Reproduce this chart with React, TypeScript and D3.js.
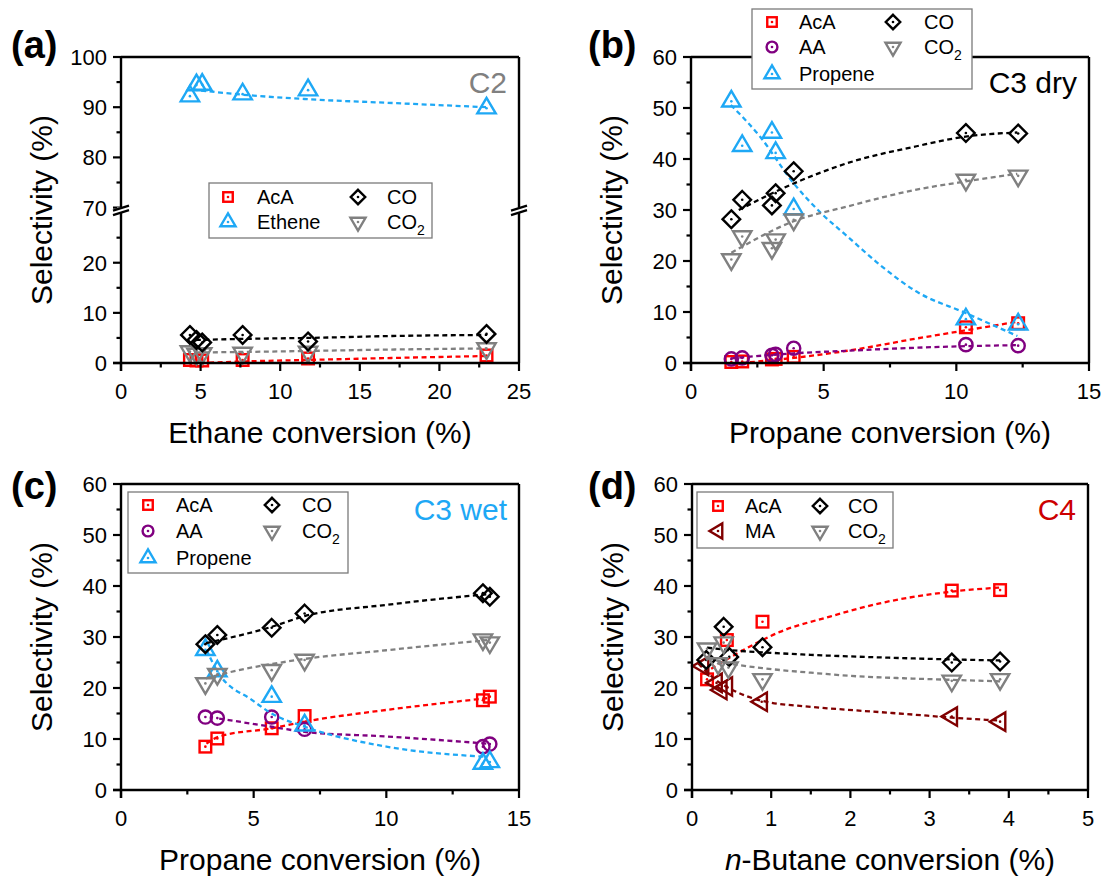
import React from 'react';
import * as d3 from 'd3';

type Pt = [number, number];
type Shape = 'square' | 'circle' | 'up' | 'down' | 'diamond' | 'left';

const FONT = "'Liberation Sans', Arial, Helvetica, sans-serif";
const RED = '#ff0000';
const PURPLE = '#800080';
const BLUE = '#1ea8f5';
const BLACK = '#000000';
const GRAY = '#808080';
const DKRED = '#800000';

// ---------- Panel (a) C2 ----------
const C2_conv = [4.33, 4.74, 5.1, 7.64, 11.75, 22.96];
const C2_AcA = [0.6, 0.5, 0.5, 0.6, 0.9, 1.5];
const C2_Ethene = [92.2, 94.4, 94.5, 92.6, 93.4, 89.8];
const C2_CO = [5.6, 4.6, 4.1, 5.6, 4.3, 5.8];
const C2_CO2 = [2.3, 1.8, 1.9, 2.0, 2.2, 2.9];
const C2_AcA_fit: Pt[] = [[5.0, 0.0], [7.6, 0.3], [11.6, 0.6], [17.0, 1.0], [23.0, 1.4]];
const C2_Ethene_fit: Pt[] = [[4.5, 93.5], [7.6, 92.5], [11.7, 91.6], [17.3, 90.8], [23.0, 90.0]];
const C2_CO_fit: Pt[] = [[4.7, 4.6], [7.6, 4.8], [11.7, 5.0], [17.3, 5.4], [23.0, 5.6]];
const C2_CO2_fit: Pt[] = [[4.7, 2.1], [7.6, 2.2], [11.7, 2.4], [17.3, 2.7], [23.0, 2.9]];
const C2_xTicks = [0, 5, 10, 15, 20, 25];
const C2_yTicksLow = [0, 10, 20];
const C2_yTicksHigh = [70, 80, 90, 100];

// ---------- Panel (b) C3 dry ----------
const C3d_conv = [1.52, 1.93, 3.05, 3.19, 3.87, 10.36, 12.33];
const C3d_AcA = [0.2, 0.3, 0.7, 0.8, 1.2, 7.0, 7.8];
const C3d_AA = [0.8, 1.0, 1.5, 1.7, 2.9, 3.6, 3.4];
const C3d_Propene = [51.3, 42.6, 45.2, 41.2, 30.2, 8.6, 7.6];
const C3d_CO = [28.2, 32.0, 30.9, 33.3, 37.6, 45.1, 45.0];
const C3d_CO2 = [20.3, 24.8, 22.5, 24.2, 28.1, 35.9, 36.7];
const C3d_AcA_fit: Pt[] = [[1.9, 0.0], [3.87, 1.0], [5.9, 2.4], [8.5, 4.8], [10.35, 6.4], [12.3, 8.1]];
const C3d_AA_fit: Pt[] = [[1.5, 0.9], [1.93, 1.1], [3.87, 1.9], [5.9, 2.4], [8.5, 3.0], [10.35, 3.3], [12.3, 3.5]];
const C3d_Propene_fit: Pt[] = [[1.5, 50.6], [2.6, 44.4], [3.86, 35.3], [4.9, 29.4], [5.9, 24.8], [7.2, 18.9], [8.5, 14.0], [10.35, 9.8], [12.3, 5.3]];
const C3d_CO_fit: Pt[] = [[1.8, 30.0], [3.87, 35.2], [5.9, 39.2], [8.5, 42.5], [10.35, 44.4], [12.3, 45.2]];
const C3d_CO2_fit: Pt[] = [[1.52, 21.6], [3.87, 27.8], [5.9, 30.7], [8.5, 34.0], [10.35, 35.6], [12.3, 37.1]];
const C3_xTicks = [0, 5, 10, 15];
const Y60_ticks = [0, 10, 20, 30, 40, 50, 60];

// ---------- Panel (c) C3 wet ----------
const C3w_conv = [3.18, 3.63, 5.68, 6.92, 13.64, 13.9];
const C3w_AcA = [8.5, 10.1, 12.1, 14.5, 17.6, 18.3];
const C3w_AA = [14.3, 14.1, 14.3, 11.9, 8.5, 9.0];
const C3w_Propene = [27.5, 23.3, 18.3, 12.7, 5.2, 5.5];
const C3w_CO = [28.6, 30.4, 31.8, 34.6, 38.6, 37.9];
const C3w_CO2 = [20.9, 22.7, 23.5, 25.5, 29.5, 28.9];
const C3w_AcA_fit: Pt[] = [[3.22, 9.1], [3.7, 10.5], [5.68, 12.1], [6.92, 13.4], [10.0, 15.7], [13.8, 18.0]];
const C3w_AA_fit: Pt[] = [[3.7, 14.0], [5.68, 12.4], [6.92, 11.4], [10.0, 10.5], [13.8, 9.1]];
const C3w_Propene_fit: Pt[] = [[3.22, 27.5], [3.63, 23.3], [4.95, 17.6], [5.68, 15.0], [6.92, 12.4], [10.0, 8.5], [13.8, 6.5]];
const C3w_CO_fit: Pt[] = [[3.2, 28.8], [5.68, 32.0], [6.92, 34.1], [10.0, 36.3], [13.8, 38.4]];
const C3w_CO2_fit: Pt[] = [[3.2, 21.9], [3.63, 22.5], [6.92, 25.7], [10.0, 27.4], [13.8, 29.4]];

// ---------- Panel (d) C4 ----------
const C4_AcA_x = [0.19, 0.44, 0.89, 3.28, 3.89];
const C4_AcA = [21.7, 29.4, 33.0, 39.1, 39.2];
const C4_MA_x = [0.14, 0.31, 0.37, 0.44, 0.88, 3.28, 3.89];
const C4_MA = [24.3, 21.0, 19.6, 20.3, 17.3, 14.4, 13.4];
const C4_CO_x = [0.18, 0.40, 0.47, 0.89, 3.28, 3.89];
const C4_CO = [25.5, 32.0, 26.1, 28.0, 25.0, 25.2];
const C4_CO2_x = [0.19, 0.33, 0.40, 0.46, 0.89, 3.28, 3.89];
const C4_CO2 = [27.7, 24.8, 28.9, 24.0, 21.7, 21.4, 21.7];
const C4_AcA_fit: Pt[] = [[0.15, 22.9], [0.69, 27.8], [1.11, 31.0], [1.74, 34.0], [2.37, 36.6], [3.28, 38.9], [3.89, 39.7]];
const C4_MA_fit: Pt[] = [[0.08, 24.8], [0.3, 21.6], [0.5, 19.7], [0.88, 17.5], [1.5, 16.3], [2.08, 15.6], [2.7, 14.9], [3.28, 14.2], [3.89, 13.6]];
const C4_CO_fit: Pt[] = [[0.19, 27.9], [0.5, 27.4], [0.89, 27.0], [1.5, 26.5], [2.37, 26.0], [3.28, 25.6], [3.89, 25.4]];
const C4_CO2_fit: Pt[] = [[0.2, 25.8], [0.48, 24.8], [0.89, 23.9], [1.5, 23.0], [2.08, 22.3], [2.7, 21.9], [3.28, 21.6], [3.89, 21.3]];
const C4_xTicks = [0, 1, 2, 3, 4, 5];

interface Series { name: string; shape: Shape; color: string; x: number[]; y: number[]; fit: Pt[]; }
interface LegendItem { s: Series; col: number; row: number; }
interface Box { l: number; r: number; t: number; b: number; }

function Marker({ shape, color, cx, cy, k = 1 }: { shape: Shape; color: string; cx: number; cy: number; k?: number }) {
  const sw = 2.4;
  let el: any = null;
  if (shape === 'square') {
    const s = 5.8 * k;
    el = <rect x={cx - s} y={cy - s} width={2 * s} height={2 * s} fill="none" stroke={color} strokeWidth={sw} />;
  } else if (shape === 'circle') {
    el = <circle cx={cx} cy={cy} r={6.6 * k} fill="none" stroke={color} strokeWidth={sw} />;
  } else if (shape === 'diamond') {
    const d = 8.8 * k;
    el = <path d={`M${cx},${cy - d}L${cx + d},${cy}L${cx},${cy + d}L${cx - d},${cy}Z`} fill="none" stroke={color} strokeWidth={sw} />;
  } else if (shape === 'up') {
    const a = 10.4 * k, b = 5.2 * k, w = 9.2 * k;
    el = <path d={`M${cx},${cy - a}L${cx + w},${cy + b}L${cx - w},${cy + b}Z`} fill="none" stroke={color} strokeWidth={sw} />;
  } else if (shape === 'down') {
    const a = 10.4 * k, b = 5.2 * k, w = 9.2 * k;
    el = <path d={`M${cx},${cy + a}L${cx + w},${cy - b}L${cx - w},${cy - b}Z`} fill="none" stroke={color} strokeWidth={sw} />;
  } else if (shape === 'left') {
    const a = 10.4 * k, b = 5.2 * k, w = 9.2 * k;
    el = <path d={`M${cx - a},${cy}L${cx + b},${cy - w}L${cx + b},${cy + w}Z`} fill="none" stroke={color} strokeWidth={sw} />;
  }
  return (
    <g>
      {el}
      <circle cx={cx} cy={cy} r={1.3} fill={color} />
    </g>
  );
}

function CO2Label({ x, y }: { x: number; y: number }) {
  return (
    <text x={x} y={y} fontSize={20} fontFamily={FONT} dy="0.35em">
      CO<tspan fontSize={14} dy={6}>2</tspan>
    </text>
  );
}

interface PanelCfg {
  box: Box;
  xDomain: [number, number];
  xTicks: number[];
  yMap: (v: number) => number;
  yTicks: number[];
  yMinor: number[];
  series: Series[];
  legend: { x: number; y: number; w: number; h: number; cols: number[]; texts: number[]; rows: number[]; items: LegendItem[] };
  label: string;
  labelPos: [number, number];
  tag: { text: string; color: string };
  xTitle: any;
  broken?: boolean;
}

function Panel({ cfg }: { cfg: PanelCfg }) {
  const { box } = cfg;
  const x = d3.scaleLinear().domain(cfg.xDomain).range([box.l, box.r]);
  const y = cfg.yMap;
  const line = d3.line<Pt>().x(d => x(d[0])).y(d => y(d[1])).curve(d3.curveMonotoneX);
  const xMinor: number[] = [];
  for (let i = 0; i < cfg.xTicks.length - 1; i++) xMinor.push((cfg.xTicks[i] + cfg.xTicks[i + 1]) / 2);
  const axW = 2.4;
  const breakY = cfg.broken ? (y(30) + y(70)) / 2 : 0;
  const cx = (box.l + box.r) / 2;
  const cy = (box.t + box.b) / 2;
  return (
    <g>
      {cfg.series.map((s, i) => (
        <g key={i}>
          <path d={line(s.fit) || ''} fill="none" stroke={s.color} strokeWidth={2.3} strokeDasharray="5,3.5" />
          {s.x.map((xv, j) => (
            <Marker key={j} shape={s.shape} color={s.color} cx={x(xv)} cy={y(s.y[j])} />
          ))}
        </g>
      ))}
      <line x1={box.l} x2={box.r} y1={box.t} y2={box.t} stroke="#000" strokeWidth={axW} />
      <line x1={box.r} x2={box.r} y1={box.t} y2={box.b} stroke="#000" strokeWidth={axW} />
      <line x1={box.l - 8} x2={box.r} y1={box.b} y2={box.b} stroke="#000" strokeWidth={axW} />
      <line x1={box.l} x2={box.l} y1={box.t} y2={box.b + 8} stroke="#000" strokeWidth={axW} />
      {cfg.xTicks.map((t, i) => (
        <g key={'xt' + i}>
          <line x1={x(t)} x2={x(t)} y1={box.b} y2={box.b + 8} stroke="#000" strokeWidth={2.2} />
          <text x={x(t)} y={box.b + 36} fontSize={22} fontFamily={FONT} textAnchor="middle">{t}</text>
        </g>
      ))}
      {xMinor.map((t, i) => (
        <line key={'xm' + i} x1={x(t)} x2={x(t)} y1={box.b} y2={box.b + 4.5} stroke="#000" strokeWidth={2.2} />
      ))}
      {cfg.yTicks.map((t, i) => (
        <g key={'yt' + i}>
          <line x1={box.l - 8} x2={box.l} y1={y(t)} y2={y(t)} stroke="#000" strokeWidth={2.2} />
          <text x={box.l - 14} y={y(t)} dy="0.36em" fontSize={22} fontFamily={FONT} textAnchor="end">{t}</text>
        </g>
      ))}
      {cfg.yMinor.map((t, i) => (
        <line key={'ym' + i} x1={box.l - 4.5} x2={box.l} y1={y(t)} y2={y(t)} stroke="#000" strokeWidth={2.2} />
      ))}
      {cfg.broken && [box.l, box.r].map((bx, i) => (
        <g key={'br' + i}>
          <rect x={bx - 4} y={breakY - 2.6} width={8} height={5.2} fill="#fff" />
          <line x1={bx - 8} x2={bx + 8} y1={breakY + 0.5} y2={breakY - 4.5} stroke="#000" strokeWidth={2.2} />
          <line x1={bx - 8} x2={bx + 8} y1={breakY + 5} y2={breakY} stroke="#000" strokeWidth={2.2} />
        </g>
      ))}
      <text x={cx} y={box.b + 80} fontSize={30} fontFamily={FONT} textAnchor="middle">{cfg.xTitle}</text>
      <text transform={`translate(${box.l - 69},${cy}) rotate(-90)`} fontSize={30} fontFamily={FONT} textAnchor="middle">Selectivity (%)</text>
      <text x={cfg.labelPos[0]} y={cfg.labelPos[1]} fontSize={38} fontWeight="bold" fontFamily={FONT}>{cfg.label}</text>
      <text x={box.r - 12} y={box.t + 36} fontSize={30} fontFamily={FONT} textAnchor="end" fill={cfg.tag.color}>{cfg.tag.text}</text>
      <g>
        <rect x={cfg.legend.x} y={cfg.legend.y} width={cfg.legend.w} height={cfg.legend.h} fill="#fff" stroke="#7a7a7a" strokeWidth={1.3} />
        {cfg.legend.items.map((it, i) => {
          const mx = cfg.legend.cols[it.col];
          const tx = cfg.legend.texts[it.col];
          const ry = cfg.legend.rows[it.row];
          return (
            <g key={'lg' + i}>
              <Marker shape={it.s.shape} color={it.s.color} cx={mx} cy={ry} k={0.82} />
              {it.s.name === 'CO2' ? <CO2Label x={tx} y={ry} /> : (
                <text x={tx} y={ry} dy="0.35em" fontSize={20} fontFamily={FONT}>{it.s.name}</text>
              )}
            </g>
          );
        })}
      </g>
    </g>
  );
}

export default function App() {
  const aBox: Box = { l: 121, r: 519, t: 57, b: 363 };
  const yLow = d3.scaleLinear().domain([0, 30]).range([363, 212.6]);
  const yHigh = d3.scaleLinear().domain([70, 100]).range([207.6, 57]);
  const aY = (v: number) => (v < 50 ? yLow(v) : yHigh(v));
  const aSeries: Series[] = [
    { name: 'AcA', shape: 'square', color: RED, x: C2_conv, y: C2_AcA, fit: C2_AcA_fit },
    { name: 'CO2', shape: 'down', color: GRAY, x: C2_conv, y: C2_CO2, fit: C2_CO2_fit },
    { name: 'CO', shape: 'diamond', color: BLACK, x: C2_conv, y: C2_CO, fit: C2_CO_fit },
    { name: 'Ethene', shape: 'up', color: BLUE, x: C2_conv, y: C2_Ethene, fit: C2_Ethene_fit },
  ];
  const aCfg: PanelCfg = {
    box: aBox, xDomain: [0, 25], xTicks: C2_xTicks, yMap: aY,
    yTicks: [...C2_yTicksLow, ...C2_yTicksHigh], yMinor: [5, 15, 25, 75, 85, 95],
    series: aSeries,
    legend: {
      x: 209, y: 183, w: 223, h: 55, cols: [228, 358], texts: [257, 387], rows: [197, 222],
      items: [{ s: aSeries[0], col: 0, row: 0 }, { s: aSeries[3], col: 0, row: 1 }, { s: aSeries[2], col: 1, row: 0 }, { s: aSeries[1], col: 1, row: 1 }],
    },
    label: '(a)', labelPos: [11, 58], tag: { text: 'C2', color: GRAY }, xTitle: 'Ethane conversion (%)', broken: true,
  };

  const bBox: Box = { l: 691, r: 1089, t: 57, b: 363 };
  const bY = d3.scaleLinear().domain([0, 60]).range([bBox.b, bBox.t]);
  const bSeries: Series[] = [
    { name: 'AcA', shape: 'square', color: RED, x: C3d_conv, y: C3d_AcA, fit: C3d_AcA_fit },
    { name: 'AA', shape: 'circle', color: PURPLE, x: C3d_conv, y: C3d_AA, fit: C3d_AA_fit },
    { name: 'Propene', shape: 'up', color: BLUE, x: C3d_conv, y: C3d_Propene, fit: C3d_Propene_fit },
    { name: 'CO', shape: 'diamond', color: BLACK, x: C3d_conv, y: C3d_CO, fit: C3d_CO_fit },
    { name: 'CO2', shape: 'down', color: GRAY, x: C3d_conv, y: C3d_CO2, fit: C3d_CO2_fit },
  ];
  const bCfg: PanelCfg = {
    box: bBox, xDomain: [0, 15], xTicks: C3_xTicks, yMap: (v: number) => bY(v),
    yTicks: Y60_ticks, yMinor: [5, 15, 25, 35, 45, 55],
    series: bSeries,
    legend: {
      x: 752, y: 9, w: 220, h: 80, cols: [772, 893], texts: [799, 924], rows: [22, 47, 74],
      items: [{ s: bSeries[0], col: 0, row: 0 }, { s: bSeries[1], col: 0, row: 1 }, { s: bSeries[2], col: 0, row: 2 }, { s: bSeries[3], col: 1, row: 0 }, { s: bSeries[4], col: 1, row: 1 }],
    },
    label: '(b)', labelPos: [588, 58], tag: { text: 'C3 dry', color: BLACK }, xTitle: 'Propane conversion (%)',
  };

  const cBox: Box = { l: 121, r: 519, t: 484, b: 790 };
  const cY = d3.scaleLinear().domain([0, 60]).range([cBox.b, cBox.t]);
  const cSeries: Series[] = [
    { name: 'AcA', shape: 'square', color: RED, x: C3w_conv, y: C3w_AcA, fit: C3w_AcA_fit },
    { name: 'AA', shape: 'circle', color: PURPLE, x: C3w_conv, y: C3w_AA, fit: C3w_AA_fit },
    { name: 'Propene', shape: 'up', color: BLUE, x: C3w_conv, y: C3w_Propene, fit: C3w_Propene_fit },
    { name: 'CO2', shape: 'down', color: GRAY, x: C3w_conv, y: C3w_CO2, fit: C3w_CO2_fit },
    { name: 'CO', shape: 'diamond', color: BLACK, x: C3w_conv, y: C3w_CO, fit: C3w_CO_fit },
  ];
  const cCfg: PanelCfg = {
    box: cBox, xDomain: [0, 15], xTicks: C3_xTicks, yMap: (v: number) => cY(v),
    yTicks: Y60_ticks, yMinor: [5, 15, 25, 35, 45, 55],
    series: cSeries,
    legend: {
      x: 128, y: 492, w: 220, h: 81, cols: [148, 272], texts: [176, 302], rows: [505, 531, 558],
      items: [{ s: cSeries[0], col: 0, row: 0 }, { s: cSeries[1], col: 0, row: 1 }, { s: cSeries[2], col: 0, row: 2 }, { s: cSeries[4], col: 1, row: 0 }, { s: cSeries[3], col: 1, row: 1 }],
    },
    label: '(c)', labelPos: [11, 499], tag: { text: 'C3 wet', color: BLUE }, xTitle: 'Propane conversion (%)',
  };

  const dBox: Box = { l: 692, r: 1088, t: 484, b: 790 };
  const dY = d3.scaleLinear().domain([0, 60]).range([dBox.b, dBox.t]);
  const dSeries: Series[] = [
    { name: 'AcA', shape: 'square', color: RED, x: C4_AcA_x, y: C4_AcA, fit: C4_AcA_fit },
    { name: 'MA', shape: 'left', color: DKRED, x: C4_MA_x, y: C4_MA, fit: C4_MA_fit },
    { name: 'CO', shape: 'diamond', color: BLACK, x: C4_CO_x, y: C4_CO, fit: C4_CO_fit },
    { name: 'CO2', shape: 'down', color: GRAY, x: C4_CO2_x, y: C4_CO2, fit: C4_CO2_fit },
  ];
  const dCfg: PanelCfg = {
    box: dBox, xDomain: [0, 5], xTicks: C4_xTicks, yMap: (v: number) => dY(v),
    yTicks: Y60_ticks, yMinor: [5, 15, 25, 35, 45, 55],
    series: dSeries,
    legend: {
      x: 697, y: 492, w: 196, h: 56, cols: [718, 820], texts: [745, 848], rows: [506, 531],
      items: [{ s: dSeries[0], col: 0, row: 0 }, { s: dSeries[1], col: 0, row: 1 }, { s: dSeries[2], col: 1, row: 0 }, { s: dSeries[3], col: 1, row: 1 }],
    },
    label: '(d)', labelPos: [588, 499], tag: { text: 'C4', color: '#cc0000' },
    xTitle: <><tspan fontStyle="italic">n</tspan>-Butane conversion (%)</>,
  };

  return (
    <svg width={1107} height={879} viewBox="0 0 1107 879" style={{ position: 'absolute', left: 0, top: 0, background: '#fff' }}>
      <rect x={0} y={0} width={1107} height={879} fill="#fff" />
      <Panel cfg={aCfg} />
      <Panel cfg={bCfg} />
      <Panel cfg={cCfg} />
      <Panel cfg={dCfg} />
    </svg>
  );
}
